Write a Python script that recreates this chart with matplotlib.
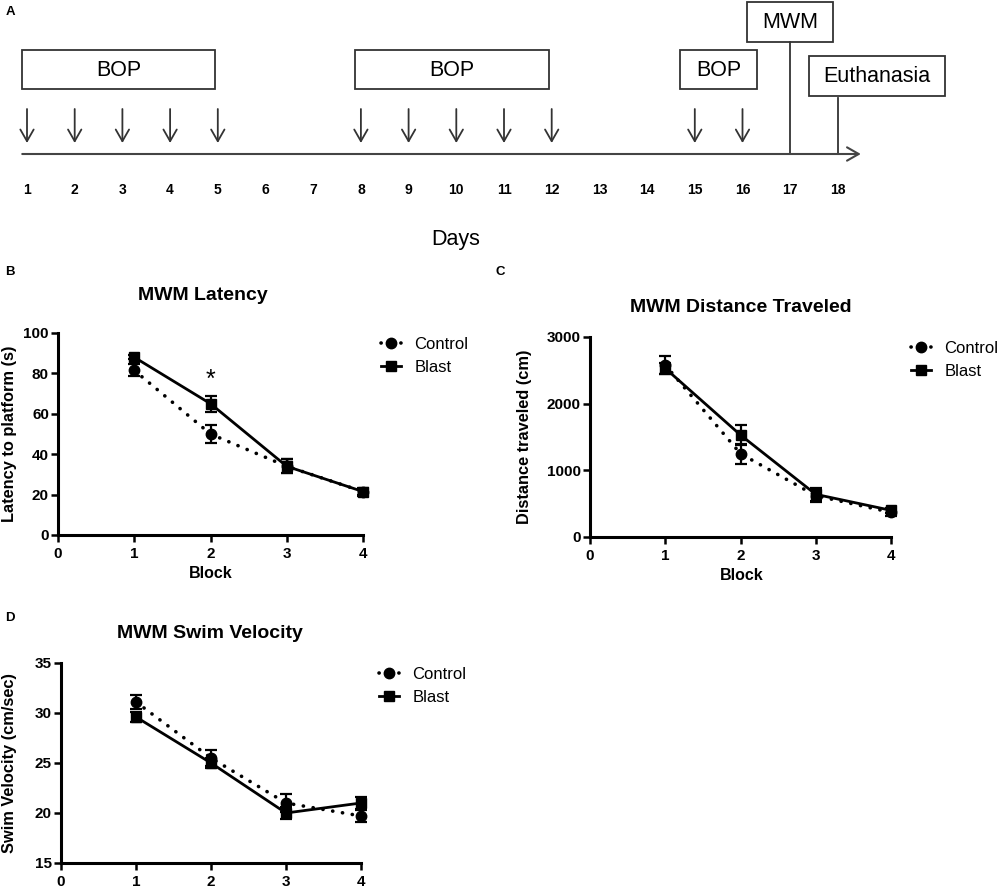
import matplotlib.pyplot as plt
from matplotlib.patches import Rectangle

plt.rcParams['font.family'] = ['Liberation Sans', 'DejaVu Sans']

W, H = 1000, 890

# ---- panel A: timeline ----
days = list(range(1, 19))
injection_days = [1, 2, 3, 4, 5, 8, 9, 10, 11, 12, 15, 16]
bop_spans = [(0.9, 4.95), (7.88, 11.94), (14.7, 16.3)]
mwm_day = 17
euth_day = 18

# ---- panels B-D: Morris water maze ----
blocks = [1, 2, 3, 4]

lat_control = [81.5, 50, 34, 21.5]
lat_control_err = [3, 4.5, 3.5, 1.5]
lat_blast = [88, 65, 34, 21.5]
lat_blast_err = [1, 4, 3.5, 2]

dist_control = [2580, 1250, 620, 370]
dist_control_err = [130, 150, 100, 50]
dist_blast = [2530, 1530, 640, 400]
dist_blast_err = [80, 150, 100, 40]

vel_control = [31.1, 25.5, 21.0, 19.7]
vel_control_err = [0.7, 0.8, 0.9, 0.6]
vel_blast = [29.6, 25.0, 20.0, 21.0]
vel_blast_err = [0.5, 0.5, 0.6, 0.6]


def px_axes(fig, left, top, right, bottom):
    return fig.add_axes([left / W, 1 - bottom / H, (right - left) / W, (bottom - top) / H])


fig = plt.figure(figsize=(W / 100, H / 100), dpi=100)

# ---------------- A ----------------
step = 47.7
axa = fig.add_axes([0, 1 - 260 / H, 1, 260 / H])
axa.set_xlim(1 - 27 / step, 1 + 973 / step)
axa.set_ylim(260, 0)
axa.axis('off')
gray = '#333333'

for d in days:
    axa.text(d, 190, str(d), ha='center', va='center', fontsize=10, fontweight='bold')
for d in injection_days:
    axa.annotate('', xy=(d, 143), xytext=(d, 109),
                 arrowprops=dict(arrowstyle='->,head_length=0.7,head_width=0.4',
                                 lw=1.3, color=gray, mutation_scale=12,
                                 shrinkA=0, shrinkB=0))
axa.annotate('', xy=(18.48, 154), xytext=(0.9, 154),
             arrowprops=dict(arrowstyle='->,head_length=0.7,head_width=0.4',
                             lw=1.5, color='#444444', mutation_scale=12,
                             shrinkA=0, shrinkB=0))
for x0, x1 in bop_spans:
    axa.add_patch(Rectangle((x0, 50), x1 - x0, 39, fill=False, lw=1.3, ec=gray))
    axa.text((x0 + x1) / 2, 70, 'BOP', ha='center', va='center', fontsize=15.5)

axa.add_patch(Rectangle((mwm_day - 0.9, 2), 1.8, 40, fill=False, lw=1.3, ec=gray))
axa.text(mwm_day, 22, 'MWM', ha='center', va='center', fontsize=15.5)
axa.plot([mwm_day, mwm_day], [42, 154], color=gray, lw=1.3)

axa.add_patch(Rectangle((euth_day - 0.6, 56), 2.85, 40, fill=False, lw=1.3, ec=gray))
axa.text(euth_day - 0.6 + 1.425, 77, 'Euthanasia', ha='center', va='center', fontsize=15.5)
axa.plot([euth_day, euth_day], [98, 154], color=gray, lw=1.3)

fig.text(456 / W, 1 - 240 / H, 'Days', ha='center', va='center', fontsize=15.5)


# ---------------- B, C, D ----------------
def mwm_panel(ax, ctrl, ctrl_err, blast, blast_err, ylim, yticks):
    ax.plot(blocks, ctrl, color='black', lw=2.6, ls=(0, (0.05, 2.7)),
            dash_capstyle='round', marker='o', ms=7.5, clip_on=False, label='Control')
    ax.errorbar(blocks, ctrl, yerr=ctrl_err, fmt='none', ecolor='black',
                elinewidth=1.6, capsize=4, capthick=1.6, clip_on=False)
    ax.plot(blocks, blast, color='black', lw=2, ls='-', marker='s', ms=7.5,
            clip_on=False, label='Blast')
    ax.errorbar(blocks, blast, yerr=blast_err, fmt='none', ecolor='black',
                elinewidth=1.6, capsize=4, capthick=1.6, clip_on=False)
    ax.set_xlim(0, 4)
    ax.set_ylim(*ylim)
    ax.set_xticks([0, 1, 2, 3, 4])
    ax.set_yticks(yticks)
    for s in ['top', 'right']:
        ax.spines[s].set_visible(False)
    for s in ['left', 'bottom']:
        ax.spines[s].set_linewidth(2.2)
    ax.tick_params(direction='out', length=5, width=1.8, labelsize=11)
    ax.tick_params(axis='x', pad=4)
    ax.tick_params(axis='y', pad=1.5)
    for lbl in ax.get_xticklabels() + ax.get_yticklabels():
        lbl.set_fontweight('bold')
    ax.patch.set_alpha(0)


def panel_legend(ax, x, y):
    ax.legend(loc='upper left', bbox_to_anchor=(x / W, 1 - y / H),
              bbox_transform=fig.transFigure, frameon=False, fontsize=12,
              handlelength=1.2, handletextpad=0.8, labelspacing=0.45,
              borderpad=0, borderaxespad=0)


# B
axb = px_axes(fig, 58, 333, 363, 535)
mwm_panel(axb, lat_control, lat_control_err, lat_blast, lat_blast_err,
          (0, 100), [0, 20, 40, 60, 80, 100])
axb.text(2, 77, '*', ha='center', va='center', fontsize=18)
panel_legend(axb, 381, 337)
fig.text(203 / W, 1 - 296 / H, 'MWM Latency', ha='center', va='center',
         fontsize=14, fontweight='bold')
fig.text(10 / W, 1 - 434 / H, 'Latency to platform (s)', rotation=90,
         ha='center', va='center', fontsize=11.8, fontweight='bold')
fig.text(211 / W, 1 - 574 / H, 'Block', ha='center', va='center',
         fontsize=11.5, fontweight='bold')

# C
axc = px_axes(fig, 590, 337, 891, 537)
mwm_panel(axc, dist_control, dist_control_err, dist_blast, dist_blast_err,
          (0, 3000), [0, 1000, 2000, 3000])
panel_legend(axc, 911, 341)
fig.text(741 / W, 1 - 308 / H, 'MWM Distance Traveled', ha='center', va='center',
         fontsize=14, fontweight='bold')
fig.text(524 / W, 1 - 437 / H, 'Distance traveled (cm)', rotation=90,
         ha='center', va='center', fontsize=11.8, fontweight='bold')
fig.text(742 / W, 1 - 576 / H, 'Block', ha='center', va='center',
         fontsize=11.5, fontweight='bold')

# D
axd = px_axes(fig, 61, 663, 361, 863)
mwm_panel(axd, vel_control, vel_control_err, vel_blast, vel_blast_err,
          (15, 35), [15, 20, 25, 30, 35])
panel_legend(axd, 379, 667)
fig.text(210 / W, 1 - 633 / H, 'MWM Swim Velocity', ha='center', va='center',
         fontsize=14, fontweight='bold')
fig.text(10 / W, 1 - 763 / H, 'Swim Velocity (cm/sec)', rotation=90,
         ha='center', va='center', fontsize=11.8, fontweight='bold')

# panel letters
for letter, x, y in [('A', 10, 12), ('B', 10, 272), ('C', 500, 272), ('D', 10, 618)]:
    fig.text(x / W, 1 - y / H, letter, ha='center', va='center',
             fontsize=9.5, fontweight='bold')

fig.savefig('out.png', dpi=100)
